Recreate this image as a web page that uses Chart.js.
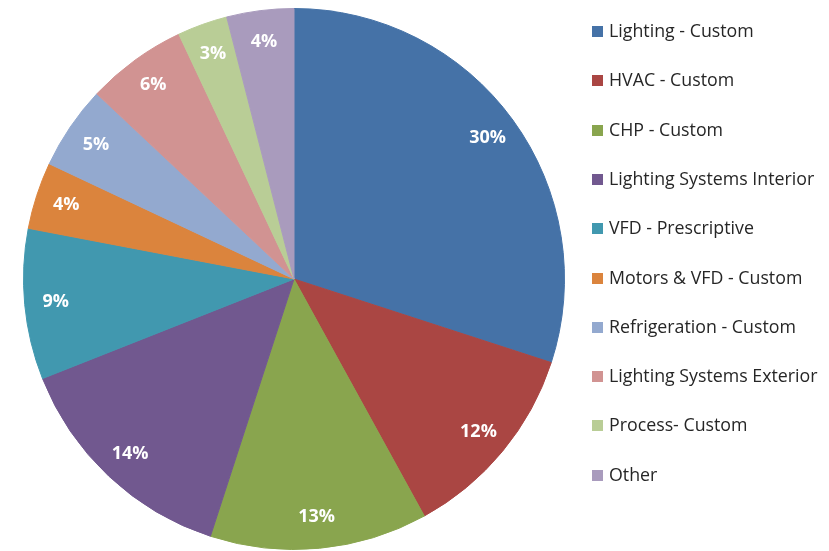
<!DOCTYPE html>
<html>
<head>
<meta charset="utf-8">
<script src="https://cdn.jsdelivr.net/npm/chart.js@4"></script>
<style>
    html, body { margin: 0; padding: 0; background: #fff; }
    #wrap { position: relative; width: 829px; height: 551px; }
    #legend { position: absolute; left: 592px; top: 0; margin: 0; padding: 0; list-style: none;
        font-family: "Open Sans", sans-serif; font-size: 17.8px; color: #262626; }
    #legend li { position: absolute; left: 0; white-space: nowrap; height: 22px; line-height: 22px; }
    #legend span { display: inline-block; width: 11px; height: 11px; margin-right: 6px; vertical-align: 0px; }
</style>
</head>
<body>
<div id="wrap">
    <canvas id="pieChart" width="829" height="551"></canvas>
    <ul id="legend"></ul>
</div>
<script>
const categories = ['Lighting - Custom', 'HVAC - Custom', 'CHP - Custom', 'Lighting Systems Interior',
    'VFD - Prescriptive', 'Motors & VFD - Custom', 'Refrigeration - Custom', 'Lighting Systems Exterior',
    'Process- Custom', 'Other'];
const shares = [30, 12, 13, 14, 9, 4, 5, 6, 3, 4];
const colors = ['#4572A7', '#AA4643', '#89A54E', '#71588F', '#4198AF', '#DB843D', '#93A9CF', '#D19392', '#B9CD96', '#A99BBD'];

// etiquetas de porcentaje dentro de cada porción
const pctLabels = {
    id: 'pctLabels',
    afterDatasetsDraw(chart) {
        const ctx = chart.ctx;
        const meta = chart.getDatasetMeta(0);
        ctx.save();
        ctx.fillStyle = '#fff';
        ctx.font = 'bold 18px "Open Sans", sans-serif';
        ctx.textAlign = 'center';
        ctx.textBaseline = 'middle';
        meta.data.forEach((arc, i) => {
            const p = arc.getProps(['x', 'y', 'startAngle', 'endAngle', 'outerRadius'], true);
            const mid = (p.startAngle + p.endAngle) / 2;
            const r = p.outerRadius * 0.885;
            ctx.fillText(shares[i] + '%', p.x + Math.cos(mid) * r, p.y + Math.sin(mid) * r);
        });
        ctx.restore();
    }
};

new Chart(document.getElementById('pieChart'), {
    type: 'pie',
    data: {
        labels: categories,
        datasets: [{
            data: shares,
            backgroundColor: colors,
            borderColor: colors,
            borderWidth: 1
        }]
    },
    options: {
        responsive: false,
        animation: false,
        layout: { padding: { left: 23, right: 264, top: 8, bottom: 1 } },
        plugins: {
            legend: { display: false },
            tooltip: { enabled: false }
        }
    },
    plugins: [pctLabels]
});

// leyenda
const legend = document.getElementById('legend');
categories.forEach((name, i) => {
    const li = document.createElement('li');
    li.style.top = (30 + i * 49.3 - 11) + 'px';
    const box = document.createElement('span');
    box.style.background = colors[i];
    li.appendChild(box);
    li.appendChild(document.createTextNode(name));
    legend.appendChild(li);
});
</script>
</body>
</html>
